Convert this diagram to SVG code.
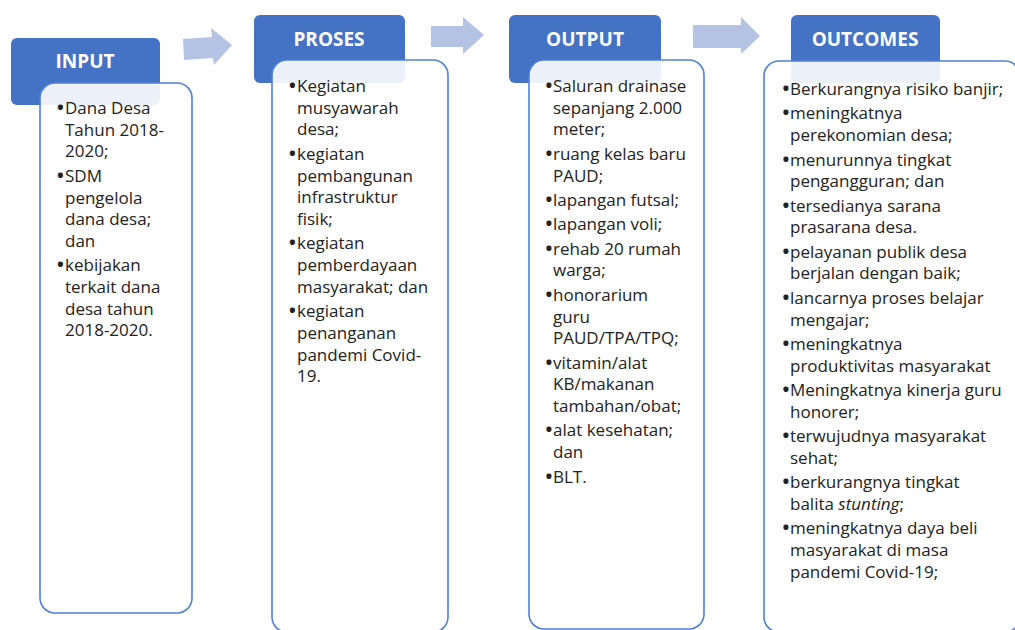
<svg xmlns="http://www.w3.org/2000/svg" width="1015" height="630" viewBox="0 0 1015 630">
<style>
.hdr{fill:#4472c4}
.body{fill:#ffffff;fill-opacity:0.9;stroke:#4f80d6;stroke-width:1.6}
.ht{font-family:"Open Sans","Liberation Sans",sans-serif;font-weight:bold;font-size:19px;fill:#ffffff;text-anchor:middle}
.t{font-family:"Open Sans","Liberation Sans",sans-serif;font-size:17px;fill:#222222}
.b{font-weight:bold;font-size:18px}
.arr{fill:#b4c2e3}
</style>
<rect width="1015" height="630" fill="#ffffff"/>
<g id="connectors">
<polygon class="arr" points="183,39 212,37 211,28 232,45 214,65 213,58 184,60"/>
<polygon class="arr" points="431,26 463,26 463,17 484,35 463,54 463,47 431,47"/>
<polygon class="arr" points="693,25 741,25 741,17 760,36 741,54 741,48 693,48"/>
</g>
<g id="input">
<rect class="hdr" x="11" y="38" width="149" height="67" rx="6"/>
<text class="ht" x="85" y="68">INPUT</text>
<rect class="body" x="40" y="83" width="152" height="530" rx="15"/>
<text class="t"><tspan class="b" x="57" y="114">•</tspan><tspan x="65" y="114">Dana Desa</tspan><tspan x="65" y="135.7">Tahun 2018-</tspan><tspan x="65" y="157.4">2020;</tspan><tspan class="b" x="57" y="181.8">•</tspan><tspan x="65" y="181.8">SDM</tspan><tspan x="65" y="203.5">pengelola</tspan><tspan x="65" y="225.2">dana desa;</tspan><tspan x="65" y="246.9">dan</tspan><tspan class="b" x="57" y="271.3">•</tspan><tspan x="65" y="271.3">kebijakan</tspan><tspan x="65" y="293">terkait dana</tspan><tspan x="65" y="314.7">desa tahun</tspan><tspan x="65" y="336.4">2018-2020.</tspan></text>
</g>
<g id="proses">
<rect class="hdr" x="254" y="15" width="151" height="68" rx="6"/>
<text class="ht" x="329" y="46">PROSES</text>
<rect class="body" x="272" y="60" width="176" height="572" rx="15"/>
<text class="t"><tspan class="b" x="289" y="92">•</tspan><tspan x="297" y="92">Kegiatan</tspan><tspan x="297" y="113.7">musyawarah</tspan><tspan x="297" y="135.4">desa;</tspan><tspan class="b" x="289" y="159.8">•</tspan><tspan x="297" y="159.8">kegiatan</tspan><tspan x="297" y="181.5">pembangunan</tspan><tspan x="297" y="203.2">infrastruktur</tspan><tspan x="297" y="224.9">fisik;</tspan><tspan class="b" x="289" y="249.3">•</tspan><tspan x="297" y="249.3">kegiatan</tspan><tspan x="297" y="271">pemberdayaan</tspan><tspan x="297" y="292.7">masyarakat; dan</tspan><tspan class="b" x="289" y="317.1">•</tspan><tspan x="297" y="317.1">kegiatan</tspan><tspan x="297" y="338.8">penanganan</tspan><tspan x="297" y="360.5">pandemi Covid-</tspan><tspan x="297" y="382.2">19.</tspan></text>
</g>
<g id="output">
<rect class="hdr" x="509" y="15" width="152" height="68" rx="6"/>
<text class="ht" x="585" y="46">OUTPUT</text>
<rect class="body" x="529" y="60" width="175" height="569" rx="15"/>
<text class="t"><tspan class="b" x="545.5" y="92">•</tspan><tspan x="553" y="92">Saluran drainase</tspan><tspan x="553" y="113.7">sepanjang 2.000</tspan><tspan x="553" y="135.4">meter;</tspan><tspan class="b" x="545.5" y="159.8">•</tspan><tspan x="553" y="159.8">ruang kelas baru</tspan><tspan x="553" y="181.5">PAUD;</tspan><tspan class="b" x="545.5" y="205.9">•</tspan><tspan x="553" y="205.9">lapangan futsal;</tspan><tspan class="b" x="545.5" y="230.3">•</tspan><tspan x="553" y="230.3">lapangan voli;</tspan><tspan class="b" x="545.5" y="254.7">•</tspan><tspan x="553" y="254.7">rehab 20 rumah</tspan><tspan x="553" y="276.4">warga;</tspan><tspan class="b" x="545.5" y="300.8">•</tspan><tspan x="553" y="300.8">honorarium</tspan><tspan x="553" y="322.5">guru</tspan><tspan x="553" y="344.2">PAUD/TPA/TPQ;</tspan><tspan class="b" x="545.5" y="368.6">•</tspan><tspan x="553" y="368.6">vitamin/alat</tspan><tspan x="553" y="390.3">KB/makanan</tspan><tspan x="553" y="412">tambahan/obat;</tspan><tspan class="b" x="545.5" y="436.4">•</tspan><tspan x="553" y="436.4">alat kesehatan;</tspan><tspan x="553" y="458.1">dan</tspan><tspan class="b" x="545.5" y="482.5">•</tspan><tspan x="553" y="482.5">BLT.</tspan></text>
</g>
<g id="outcomes">
<rect class="hdr" x="791" y="15" width="149" height="68" rx="6"/>
<text class="ht" x="865" y="46">OUTCOMES</text>
<rect class="body" x="764" y="61" width="256" height="571" rx="15"/>
<text class="t"><tspan class="b" x="782.5" y="95">•</tspan><tspan x="790" y="95">Berkurangnya risiko banjir;</tspan><tspan class="b" x="782.5" y="119.4">•</tspan><tspan x="790" y="119.4">meningkatnya</tspan><tspan x="790" y="141.1">perekonomian desa;</tspan><tspan class="b" x="782.5" y="165.5">•</tspan><tspan x="790" y="165.5">menurunnya tingkat</tspan><tspan x="790" y="187.2">pengangguran; dan</tspan><tspan class="b" x="782.5" y="211.6">•</tspan><tspan x="790" y="211.6">tersedianya sarana</tspan><tspan x="790" y="233.3">prasarana desa.</tspan><tspan class="b" x="782.5" y="257.7">•</tspan><tspan x="790" y="257.7">pelayanan publik desa</tspan><tspan x="790" y="279.4">berjalan dengan baik;</tspan><tspan class="b" x="782.5" y="303.8">•</tspan><tspan x="790" y="303.8">lancarnya proses belajar</tspan><tspan x="790" y="325.5">mengajar;</tspan><tspan class="b" x="782.5" y="349.9">•</tspan><tspan x="790" y="349.9">meningkatnya</tspan><tspan x="790" y="371.6">produktivitas masyarakat</tspan><tspan class="b" x="782.5" y="396">•</tspan><tspan x="790" y="396">Meningkatnya kinerja guru</tspan><tspan x="790" y="417.7">honorer;</tspan><tspan class="b" x="782.5" y="442.1">•</tspan><tspan x="790" y="442.1">terwujudnya masyarakat</tspan><tspan x="790" y="463.8">sehat;</tspan><tspan class="b" x="782.5" y="488.2">•</tspan><tspan x="790" y="488.2">berkurangnya tingkat</tspan><tspan x="790" y="509.9">balita <tspan font-style="italic">stunting</tspan>;</tspan><tspan class="b" x="782.5" y="534.3">•</tspan><tspan x="790" y="534.3">meningkatnya daya beli</tspan><tspan x="790" y="556">masyarakat di masa</tspan><tspan x="790" y="577.7">pandemi Covid-19;</tspan></text>
</g>
</svg>
